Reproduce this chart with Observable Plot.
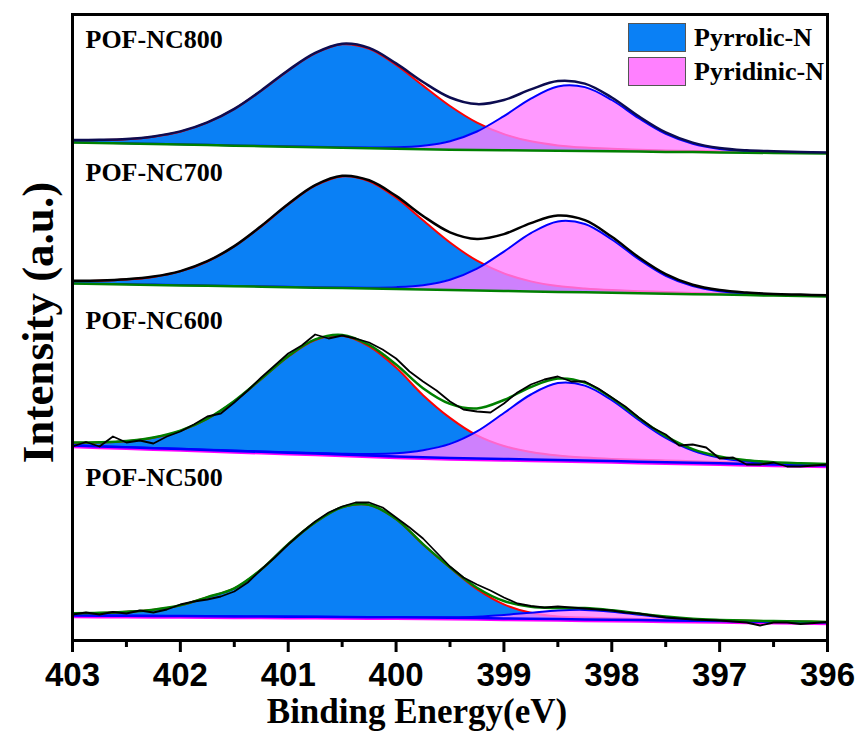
<!DOCTYPE html>
<html>
<head>
<meta charset="utf-8">
<script src="https://cdn.jsdelivr.net/npm/d3@7"></script>
<script src="https://cdn.jsdelivr.net/npm/@observablehq/plot@0.6"></script>
<style>
  body { margin: 0; background: #fff; }
  #wrap { position: relative; width: 860px; height: 731px; }
  .leg { position: absolute; left: 628px; height: 29px; display: flex; align-items: center;
         font: bold 26px "Liberation Serif", "Times New Roman", serif; color: #000; }
  .sw { width: 56px; height: 27px; border: 1px solid #555; margin-right: 8px; }
</style>
</head>
<body>
<div id="wrap"></div>
<script>
// ---------------- data ----------------
const sampleNames = ["POF-NC800", "POF-NC700", "POF-NC600", "POF-NC500"];
const labelY = [593, 460, 312, 155];            // label baseline (a.u.)
const legendLabels = ["Pyrrolic-N", "Pyridinic-N"];
const xTicks = [403, 402, 401, 400, 399, 398, 397, 396];
const xMinorTicks = [402.5, 401.5, 400.5, 399.5, 398.5, 397.5, 396.5];
const xTitle = "Binding Energy(eV)";
const yTitle = "Intensity (a.u.)";

// binding energy grid (eV) for fitted curves
const be = [403,402.75,402.5,402.25,402,401.75,401.5,401.25,401,400.75,400.5,400.25,400,399.75,399.5,399.25,399,398.75,398.5,398.25,398,397.75,397.5,397.25,397,396.75,396.5,396.25,396];
// binding energy grid (eV) for raw data
const beFine = [403,402.875,402.75,402.625,402.5,402.375,402.25,402.125,402,401.875,401.75,401.625,401.5,401.375,401.25,401.125,401,400.875,400.75,400.625,400.5,400.375,400.25,400.125,400,399.875,399.75,399.625,399.5,399.375,399.25,399.125,399,398.875,398.75,398.625,398.5,398.375,398.25,398.125,398,397.875,397.75,397.625,397.5,397.375,397.25,397.125,397,396.875,396.75,396.625,396.5,396.375,396.25,396.125,396];

// POF-NC800
const base800 = [498,497.5,496.9,496.4,495.9,495.4,494.8,494.3,493.8,493.3,492.7,492.2,491.7,491.2,490.8,490.5,490.3,490.0,489.7,489.4,489.2,488.9,488.6,488.4,488.1,487.8,487.5,487.3,487];
const pyrrolic800 = [2.3,3.0,4.4,7.4,12.9,22.4,36.6,55.4,76.1,93.8,103.5,99.5,83.9,63.7,43.7,27.4,16.1,9.2,5.4,3.5,2.5,1.9,1.5,1.2,1.0,0.9,0.8,0.7,0.6];
const pyridinic800 = [0.3,0.3,0.3,0.3,0.3,0.3,0.3,0.4,0.4,0.5,0.6,0.9,1.5,3.6,8.5,18.5,34.1,51.9,64.4,64.0,51.3,33.4,18.0,8.3,3.4,1.5,0.9,0.5,0.5];

// POF-NC700
const base700 = [357.0,356.5,356.1,355.6,355.1,354.7,354.2,353.8,353.3,352.8,352.4,351.9,351.4,351.0,350.5,350.0,349.6,349.1,348.6,348.2,347.7,347.3,346.8,346.3,345.9,345.4,344.9,344.5,344.0];
const pyrrolic700 = [2.5,3.2,4.8,8.0,14.0,24.3,39.8,60.3,82.8,102.0,111.7,107.4,91.3,69.2,47.5,29.8,17.5,10.0,5.8,3.8,2.7,2.0,1.7,1.3,1.1,1.0,0.9,0.8,0.7];
const pyridinic700 = [0.3,0.3,0.3,0.3,0.3,0.3,0.4,0.4,0.4,0.5,0.6,0.9,1.9,4.3,10.2,21.8,39.3,58.3,70.5,68.3,53.3,34.0,17.9,8.1,3.4,1.5,0.8,0.6,0.5];

// POF-NC600
const base600 = [195,194.1,193.2,192.3,191.4,190.5,189.6,188.7,187.8,186.9,185.9,185.0,184.1,183.3,182.6,182.1,181.5,181.0,180.4,179.9,179.4,178.8,178.3,177.7,177.2,176.6,176.1,175.5,175];
const pyrrolic600 = [2.7,3.9,6.1,10.4,18.2,31.1,49.6,72.6,96.0,113.6,118.8,109.1,88.8,62,40,23,13,7.5,4.5,3,2.2,2.0,1.8,1.5,1.3,1.2,1.0,1.0,0.8];
const pyridinic600 = [0.2,0.2,0.2,0.3,0.3,0.3,0.4,0.4,0.5,0.6,0.9,1.5,3.1,7.0,14,27,46,65,77,75,60.9,41.7,24.3,12.2,5.6,2.5,1.2,0.8,0.6];
const raw600 = [194,198.5,194,204,198,200,197,204,209,216,224,227,238,250,263,275,287,295,306,302,305,302,298,291,282,269,259,250,239,231,229,228,237,248,256,261,264,259,259,252,243,234,223,213,206,195,196,193,182,183,176,176,178,174,174,175,176];

// POF-NC500
const base500 = [25.0,24.85,24.7,24.55,24.4,24.25,24.1,23.95,23.8,23.65,23.5,23.35,23.2,23.05,22.76,22.4,22.1,21.7,21.4,21.1,20.7,20.4,20.1,19.7,19.4,19.0,18.7,18.4,18.0];
const pyrrolic500 = [2.1,2.7,4.0,6.2,10.7,19.0,28,47,72.5,94.4,109.6,112.2,98.1,73.0,50,29,14,6,2.5,1.8,1.4,1.2,1.0,0.9,0.8,0.7,0.6,0.6,0.5];
const pyridinic500 = [0.1,0.1,0.1,0.1,0.1,0.1,0.1,0.1,0.1,0.1,0.1,0.1,0.2,0.3,0.5,1.4,3.4,6.1,8.6,9.5,8.1,5.4,2.8,1.1,0.4,0.2,0.1,0.1,0.1];
const raw500 = [26,28,26,28.5,27,30,28,31,36,39,41,44,49,58,71,83,96,108,119,128,134,138,138,133,123,113,102,88,74,63,56,50,43,37,34.5,33,34,33,32,31,30,28,27,25,23,22,21,20.5,20,19,18,15,18,18,16.5,17.5,18.5];

// ---------------- chart ----------------
const BLUE = "#0a80f5", PINK = "#ff80ff";
const serif = "'Liberation Serif', 'Times New Roman', serif";
const sans = "'Liberation Sans', Arial, sans-serif";

const spectra = [
  {base: base800, pyr: pyrrolic800, pyd: pyridinic800, raw: null, env: "#0c0c50", bl: ["#008000"]},
  {base: base700, pyr: pyrrolic700, pyd: pyridinic700, raw: null, env: "#000000", bl: ["#008000"]},
  {base: base600, pyr: pyrrolic600, pyd: pyridinic600, raw: raw600, env: "#008000", bl: ["#ff00ff", "#0000ff"]},
  {base: base500, pyr: pyrrolic500, pyd: pyridinic500, raw: raw500, env: "#008000", bl: ["#ff00ff", "#0000ff"]}
];

const curve = "catmull-rom";
const marks = [];
spectra.forEach((s) => {
  const rows = be.map((x, i) => ({
    x,
    b: s.base[i],
    p1: s.base[i] + s.pyr[i],
    p2: s.base[i] + s.pyd[i],
    env: s.base[i] + s.pyr[i] + s.pyd[i]
  }));
  marks.push(
    Plot.areaY(rows, {x: "x", y1: "b", y2: "p1", fill: BLUE, curve}),
    Plot.line(rows, {x: "x", y: "p1", stroke: "#ff0000", strokeWidth: 2, curve}),
    Plot.areaY(rows, {x: "x", y1: "b", y2: "p2", fill: PINK, fillOpacity: 0.8, curve}),
    Plot.line(rows, {x: "x", y: "p2", stroke: "#0000ff", strokeWidth: 2, curve})
  );
  s.bl.forEach((c, j) => {
    marks.push(Plot.line(rows, {x: "x", y: "b", stroke: c, strokeWidth: 2.5, dy: s.bl.length > 1 && j === 0 ? 1.5 : 0}));
  });
  marks.push(Plot.line(rows, {x: "x", y: "env", stroke: s.env, strokeWidth: 2.5, curve}));
  if (s.raw) {
    const rawRows = beFine.map((x, i) => ({x, y: s.raw[i]}));
    marks.push(Plot.line(rawRows, {x: "x", y: "y", stroke: "#000", strokeWidth: 1.8}));
  }
});

const labelRows = sampleNames.map((name, i) => ({name, x: xTicks[0], y: labelY[i]}));

marks.push(
  Plot.text(labelRows, {x: "x", y: "y", text: "name", dx: 13, textAnchor: "start", lineAnchor: "bottom",
    fontSize: 26, fontWeight: "bold", fontFamily: serif, fill: "#000"}),
  Plot.frame({stroke: "#000", strokeWidth: 3}),
  Plot.axisX({ticks: xTicks, tickSize: 12, tickPadding: 10, strokeWidth: 3, label: null,
    tickFormat: (d) => String(d), fontSize: 33, fontWeight: "bold", fontFamily: sans, fill: "#000"}),
  Plot.axisX({ticks: xMinorTicks, tickSize: 7, strokeWidth: 3, label: null, tickFormat: () => ""}),
  Plot.text([xTitle], {frameAnchor: "bottom", dy: 82, dx: -33, lineAnchor: "bottom",
    fontSize: 35, fontWeight: "bold", fontFamily: serif, fill: "#000"}),
  Plot.text([yTitle], {frameAnchor: "left", rotate: -90, dx: -20, dy: -5, textAnchor: "middle", lineAnchor: "bottom",
    fontSize: 45, fontWeight: "bold", fontFamily: serif, fill: "#000"})
);

const chart = Plot.plot({
  width: 860,
  height: 731,
  marginLeft: 72,
  marginRight: 33,
  marginTop: 14,
  marginBottom: 91,
  x: {domain: [403, 396]},
  y: {domain: [0, 626], axis: null},
  style: {background: "#fff", color: "#000"},
  marks
});

const wrap = document.getElementById("wrap");
wrap.appendChild(chart);

const legendColors = [BLUE, PINK];
legendLabels.forEach((lab, i) => {
  const d = document.createElement("div");
  d.className = "leg";
  d.style.top = (23 + i * 34) + "px";
  const sw = document.createElement("div");
  sw.className = "sw";
  sw.style.background = legendColors[i];
  const t = document.createElement("span");
  t.textContent = lab;
  d.appendChild(sw);
  d.appendChild(t);
  wrap.appendChild(d);
});
</script>
</body>
</html>
